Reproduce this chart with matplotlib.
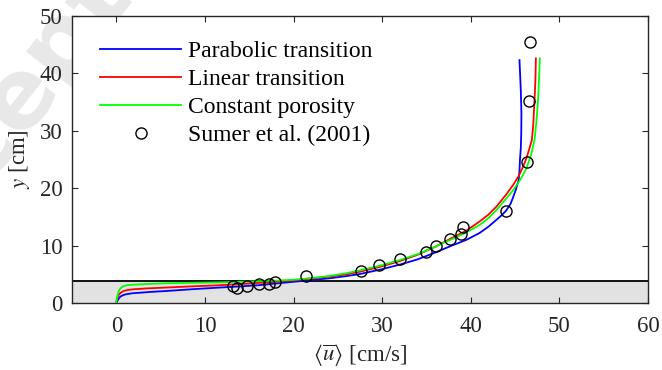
import numpy as np
import matplotlib.pyplot as plt

plt.rcParams['font.family'] = ['Liberation Serif', 'DejaVu Serif']
plt.rcParams['mathtext.fontset'] = 'stix'

# velocity profiles (u in cm/s, y in cm)
u_parab = [0, 0.1, 0.2, 0.37, 0.6, 1.0, 1.8, 2.7, 4, 5.7, 8.5, 11.7, 14, 16, 18, 20, 22, 24,
           26, 27.5, 30, 32, 34, 36, 37.7, 39.5, 41, 42, 42.9, 43.5, 44, 44.5, 44.8, 45.1,
           45.4, 45.5, 45.55, 45.65, 45.7, 45.72, 45.65, 45.5]
y_parab = [0, 0.3, 0.6, 1.0, 1.25, 1.5, 1.7, 1.8, 1.95, 2.1, 2.4, 2.7, 2.9, 3.1, 3.4, 3.7, 4.0, 4.3,
           4.7, 5.05, 5.9, 6.7, 7.6, 8.8, 9.9, 11.0, 12.2, 13.3, 14.5, 15.3, 16.1, 17.3, 18.5, 19.8,
           21.4, 23.0, 24.9, 27.0, 29.6, 33.0, 37.0, 42.3]

u_lin = [0, 0.05, 0.1, 0.26, 0.5, 0.82, 1.3, 1.95, 3.5, 5.7, 8.5, 11.7, 14, 16, 18, 20, 22, 24,
         26, 27.5, 30, 32, 34, 36, 37.7, 39.5, 41, 42, 42.9, 44, 44.8, 45.4, 45.9, 46.3, 46.6,
         46.9, 47.05, 47.2, 47.3, 47.35]
y_lin = [0, 0.5, 0.8, 1.4, 1.8, 2.1, 2.28, 2.4, 2.55, 2.7, 2.9, 3.1, 3.3, 3.5, 3.7, 3.95, 4.25, 4.6,
         5.0, 5.45, 6.4, 7.3, 8.4, 9.8, 11.2, 12.6, 14.2, 15.4, 16.8, 18.9, 20.6, 22.1, 23.7, 25.3, 26.8,
         28.4, 31.0, 35.4, 39.0, 42.6]

u_const = [0, 0.05, 0.1, 0.18, 0.26, 0.4, 0.64, 0.9, 1.2, 2, 2.7, 4, 5.7, 8.5, 11.7, 14, 16, 18,
           20, 22, 24, 26, 27.5, 30, 32, 34, 36, 37.7, 39.5, 41, 42, 42.9, 44, 44.8, 45.6, 46.3,
           46.8, 47.2, 47.4, 47.6, 47.7, 47.8]
y_const = [0, 0.6, 1.0, 1.6, 2.0, 2.45, 2.8, 3.0, 3.1, 3.2, 3.25, 3.35, 3.45, 3.52, 3.6, 3.7, 3.8, 3.9,
           4.05, 4.35, 4.7, 5.2, 5.7, 6.6, 7.5, 8.5, 9.8, 11.0, 12.3, 13.6, 14.8, 16.2, 18.2, 19.7, 21.5, 23.5,
           25.8, 28.4, 31.5, 35.4, 39.0, 42.6]

# Sumer et al. (2001) measurements
u_exp = [13.2, 13.6, 14.7, 16.1, 17.2, 17.9, 21.4, 27.6, 29.7, 32.0, 34.9, 36.1,
         37.7, 38.9, 39.1, 44.0, 46.3, 46.6, 46.7]
y_exp = [2.9, 2.7, 3.0, 3.4, 3.4, 3.7, 4.7, 5.6, 6.7, 7.6, 8.8, 9.9,
         11.1, 12.0, 13.3, 16.1, 24.6, 35.2, 45.4]

bed_top = 3.8

fig = plt.figure(figsize=(6.62, 3.70), dpi=100)
ax = fig.add_axes([0.1088, 0.181, 0.870, 0.776])

# faint watermark
fig.text(0.062, 0.797, 'Accepted', fontsize=70, color='#e8e8e8', rotation=52,
         ha='center', va='center', family='DejaVu Sans', fontweight='bold', zorder=-1)

ax.axhspan(0, bed_top, color='#e2e2e2', zorder=0)
ax.axhline(bed_top, color='k', lw=1.3, zorder=1)

ax.plot(u_parab, y_parab, color='#0000ff', lw=1.3, label='Parabolic transition', zorder=3)
ax.plot(u_lin, y_lin, color='#ff0000', lw=1.3, label='Linear transition', zorder=3)
ax.plot(u_const, y_const, color='#00ff00', lw=1.3, label='Constant porosity', zorder=3)
ax.plot(u_exp, y_exp, 'o', mfc='none', mec='k', ms=8, mew=1.0,
        label='Sumer et al. (2001)', zorder=4)

ax.set_xlim(-5, 60)
ax.set_ylim(0, 50)
ax.set_xticks(np.arange(0, 61, 10))
ax.set_yticks(np.arange(0, 51, 10))
ax.tick_params(direction='in', top=True, right=True, length=4, labelsize=16.5,
               color='#262626', labelcolor='#262626')
ax.tick_params(axis='x', pad=9)
ax.tick_params(axis='y', pad=7)
for s in ax.spines.values():
    s.set_color('#262626')
    s.set_linewidth(1.0)

ax.set_xlabel(r'$\langle\overline{u}\rangle$ [cm/s]', fontsize=16.5, color='#262626', labelpad=4)
ax.set_ylabel(r'$y$ [cm]', fontsize=16.5, color='#262626', labelpad=5)

ax.legend(loc='upper left', bbox_to_anchor=(0.033, 0.948), frameon=False, fontsize=17,
          handlelength=3.4, handletextpad=0.3, labelspacing=0.28, borderaxespad=0)

fig.savefig('out.png', dpi=100)
